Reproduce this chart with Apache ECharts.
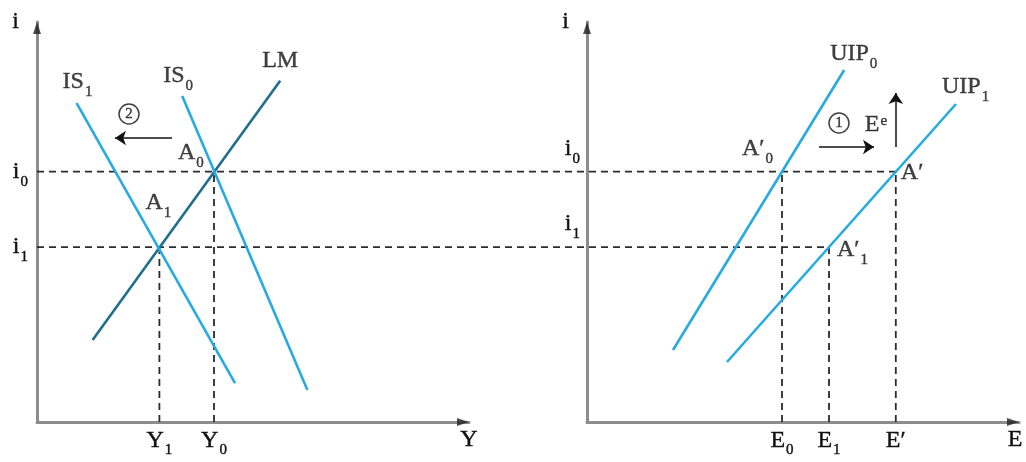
<!DOCTYPE html>
<html>
<head>
<meta charset="utf-8">
<script src="https://cdn.jsdelivr.net/npm/echarts@6/dist/echarts.min.js"></script>
<style>
  html, body { margin: 0; background: #fff; }
  #chart { width: 1026px; height: 462px; }
</style>
</head>
<body>
<div id="chart"></div>
<script>
// values are in plot units (1 unit = 40px on every axis)

// left panel: IS-LM
const Y1 = 3.06, Y0 = 4.425;
const i0 = 6.26, i1 = 4.37;
const IS0 = [[3.63, 8.15], [6.76, 0.8]];
const IS1 = [[0.99, 7.97], [4.95, 0.97]];
const LM = [[1.39, 2.05], [6.08, 8.53]];
const isShift = [[3.375, 7.1], [1.95, 7.1]];

// right panel: foreign exchange market
const E0 = 4.875, E1 = 6.05, Ep = 7.72;
const UIP0 = [[2.15, 1.8], [6.43, 8.8]];
const UIP1 = [[3.5, 1.5], [9.225, 7.95]];
const uipShift = [[5.8, 6.875], [7.175, 6.875]];
const eeRise = [[7.72, 6.875], [7.72, 8.225]];

// tick labels
const leftXTicks = [Y1, Y0];
const leftXLabels = ['Y_1', 'Y_0'];
const rightXTicks = [E0, E1, Ep];
const rightXLabels = ['E_0', 'E_1', 'E′'];
const yTicks = [i1, i0];
const yLabels = ['i_1', 'i_0'];

// layout
const UNIT = 40;
const LEFT_X = 37, RIGHT_X = 587, TOP = 22, W = 432, H = 400;
const X_MAX = W / UNIT, Y_MAX = H / UNIT;
const SPAN = RIGHT_X + W - LEFT_X;          // width of the overlay grid
const PANEL_SHIFT = (RIGHT_X - LEFT_X) / UNIT; // right panel origin in overlay units

const BLUE = '#27aae1';
const DARK_BLUE = '#1f6f8b';
const INK = '#111';
const FONT = 'Liberation Serif';

const ink = { fontFamily: FONT, color: INK, textBorderColor: INK, textBorderWidth: 0.4 };
const rich = {
  m: Object.assign({ fontSize: 24, lineHeight: 35 }, ink),
  s: Object.assign({ fontSize: 15, padding: [20, 0, 0, 1] }, ink),
  p: Object.assign({ fontSize: 15, padding: [0, 0, 8, 1] }, ink),
  // axis names sit below / left of the arrow tip
  nx: Object.assign({ fontSize: 24, padding: [36, 0, 0, 0] }, ink),
  ne: Object.assign({ fontSize: 24, padding: [36, 8, 0, 0] }, ink)
};

// 'IS_1' -> main + subscript, 'E^e' -> main + superscript
function fmt(t) {
  const m = t.match(/^([^_^]+)([_^])?(.*)$/);
  if (!m[2]) return '{m|' + m[1] + '}';
  return '{m|' + m[1] + '}{' + (m[2] === '_' ? 's' : 'p') + '|' + m[3] + '}';
}

const chart = echarts.init(document.getElementById('chart'));

function dash(data, g) {
  return {
    type: 'line', xAxisIndex: g, yAxisIndex: g, data: data,
    symbol: 'none', silent: true, z: 1,
    lineStyle: { color: '#2b2b2b', width: 1.8, type: [7, 5] }
  };
}

function curve(data, g, color) {
  return {
    type: 'line', xAxisIndex: g, yAxisIndex: g, data: data,
    symbol: 'none', silent: true, z: 3,
    lineStyle: { color: color, width: 2.6 }
  };
}

function arrow(coords, g) {
  return {
    type: 'lines', coordinateSystem: 'cartesian2d', xAxisIndex: g, yAxisIndex: g,
    data: [{ coords: coords }], symbol: ['none', 'arrow'], symbolSize: 11, z: 4,
    lineStyle: { color: INK, width: 1.5, opacity: 1 }
  };
}

function labels(items, g) {
  return {
    type: 'scatter', xAxisIndex: g, yAxisIndex: g, symbolSize: 0, silent: true, z: 5,
    itemStyle: { color: 'transparent' },
    data: items.map(d => ({
      value: d[0],
      label: {
        show: true, position: 'inside', align: 'left', verticalAlign: 'middle',
        offset: d[2], formatter: fmt(d[1]), rich: rich
      }
    }))
  };
}

function stepMark(point, num, offset, g) {
  return {
    type: 'scatter', xAxisIndex: g, yAxisIndex: g, silent: true, z: 5,
    symbol: 'circle', symbolSize: 20,
    itemStyle: { color: '#fff', borderColor: INK, borderWidth: 1.5 },
    data: [{ value: point, symbolOffset: offset }],
    label: Object.assign({ show: true, position: 'inside', formatter: num, fontSize: 15 }, ink)
  };
}

function axisHeads(g) {
  return {
    type: 'scatter', xAxisIndex: g, yAxisIndex: g, silent: true, z: 6,
    itemStyle: { color: '#222' },
    data: [
      { value: [X_MAX, 0], symbol: 'path://M0,0 L12,4 L0,8 Z', symbolSize: [12, 8], symbolOffset: [-6, 0] },
      { value: [0, Y_MAX], symbol: 'path://M4,0 L8,12 L0,12 Z', symbolSize: [8, 12], symbolOffset: [0, 6] }
    ]
  };
}

function xAxis(g, ticks, names, axisName) {
  return {
    gridIndex: g, type: 'value', min: 0, max: X_MAX,
    name: axisName, nameLocation: 'end', nameGap: 0,
    nameTextStyle: { align: 'center', verticalAlign: 'middle', rich: rich },
    axisLine: { show: true, onZero: false, lineStyle: { color: '#8c8c8c', width: 3 } },
    axisTick: { show: false },
    splitLine: { show: false },
    axisLabel: {
      customValues: ticks, margin: 1, rich: rich,
      formatter: v => fmt(names[ticks.indexOf(v)])
    }
  };
}

function yAxis(g, pad, margin) {
  return {
    gridIndex: g, type: 'value', min: 0, max: Y_MAX,
    name: 'i', nameLocation: 'end', nameGap: 0,
    nameTextStyle: Object.assign({ fontSize: 24, align: 'center', verticalAlign: 'middle', padding: [0, 43, 0, 0] }, ink),
    axisLine: { show: true, onZero: false, lineStyle: { color: '#8c8c8c', width: 3 } },
    axisTick: { show: false },
    splitLine: { show: false },
    axisLabel: {
      customValues: yTicks, margin: margin, rich: rich, padding: pad,
      formatter: v => fmt(yLabels[yTicks.indexOf(v)])
    }
  };
}

const option = {
  animation: false,
  backgroundColor: '#fff',
  grid: [
    { left: LEFT_X, top: TOP, width: W, height: H },
    { left: RIGHT_X, top: TOP, width: W, height: H },
    // invisible overlay spanning both panels, for the i-level guides
    { left: LEFT_X, top: TOP, width: SPAN, height: H }
  ],
  xAxis: [
    xAxis(0, leftXTicks, leftXLabels, '{nx|Y}'),
    xAxis(1, rightXTicks, rightXLabels, '{ne|E}'),
    { gridIndex: 2, type: 'value', min: 0, max: SPAN / UNIT, show: false }
  ],
  yAxis: [
    yAxis(0, [0, 0, 0, 0], 9),
    yAxis(1, [0, 0, 46, 0], 7),
    { gridIndex: 2, type: 'value', min: 0, max: Y_MAX, show: false }
  ],
  series: [
    // guide lines: i levels run across both panels
    dash([[0, i0], [PANEL_SHIFT + Ep, i0]], 2),
    dash([[0, i1], [PANEL_SHIFT + E1, i1]], 2),
    dash([[Y1, 0], [Y1, i1]], 0),
    dash([[Y0, 0], [Y0, i0]], 0),
    dash([[E0, 0], [E0, i0]], 1),
    dash([[E1, 0], [E1, i1]], 1),
    dash([[Ep, 0], [Ep, i0]], 1),

    curve(LM, 0, DARK_BLUE),
    curve(IS0, 0, BLUE),
    curve(IS1, 0, BLUE),
    curve(UIP0, 1, BLUE),
    curve(UIP1, 1, BLUE),

    arrow(isShift, 0),
    arrow(uipShift, 1),
    arrow(eeRise, 1),

    stepMark(isShift[1], '2', [14, -24], 0),
    stepMark(uipShift[0], '1', [20, -24], 1),

    labels([
      [IS1[0], 'IS_1', [-14, -21]],
      [IS0[0], 'IS_0', [-19, -20]],
      [LM[1], 'LM', [-18, -20]],
      [[Y0, i0], 'A_0', [-36, -19]],
      [[Y1, i1], 'A_1', [-14, -44]]
    ], 0),
    labels([
      [UIP0[1], 'UIP_0', [-14, -16]],
      [UIP1[1], 'UIP_1', [-14, -17]],
      [[E0, i0], 'A′_0', [-40, -23]],
      [[Ep, i0], 'A′', [5, 1]],
      [[E1, i1], 'A′_1', [8, 3]],
      [eeRise[0], 'E^e', [-31, -22]]
    ], 1),

    axisHeads(0),
    axisHeads(1)
  ]
};

chart.setOption(option);
</script>
</body>
</html>
